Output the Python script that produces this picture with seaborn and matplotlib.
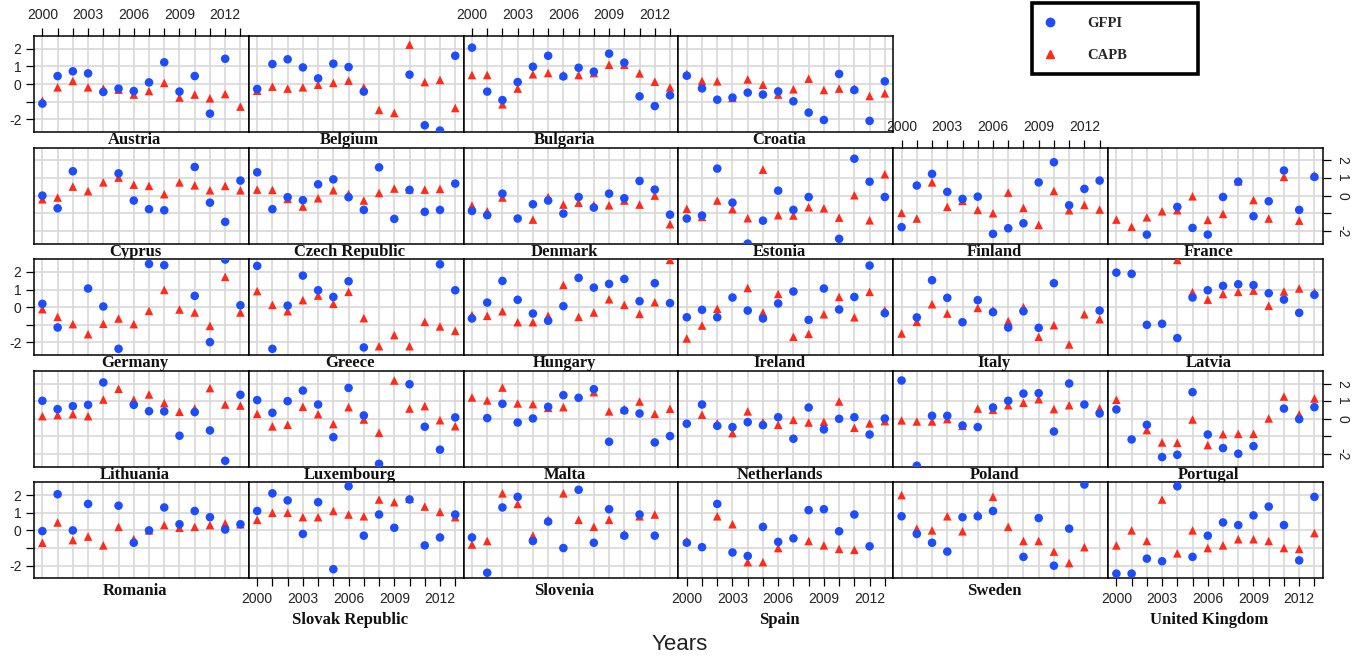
import numpy as np
import pandas as pd
import matplotlib
matplotlib.use("Agg")
import matplotlib.pyplot as plt
import seaborn as sns
from matplotlib.lines import Line2D
from matplotlib.patches import Rectangle

nan = np.nan
years = list(range(2000, 2014))
year_tick_labels = [str(y) if (y - 2000) % 3 == 0 else "" for y in years]
y_ticks = [-2, -1, 0, 1, 2]
y_tick_labels = ["-2", "", "0", "1", "2"]
series_names = ["GFPI", "CAPB"]

austria_gfpi = [-1.11, 0.45, 0.72, 0.60, -0.45, -0.26, -0.40, 0.09, 1.23, -0.43, 0.45, -1.68, 1.43, nan]
austria_capb = [-0.95, -0.19, 0.17, -0.19, -0.26, -0.32, -0.60, -0.40, 0.06, -0.77, -0.60, -0.81, -0.57, -1.28]
belgium_gfpi = [-0.28, 1.13, 1.40, 0.94, 0.32, 1.15, 0.96, -0.43, nan, nan, 0.53, -2.34, -2.64, 1.60]
belgium_capb = [-0.38, -0.15, -0.26, -0.19, -0.04, 0.06, 0.19, -0.19, -1.47, -1.64, 2.23, 0.11, 0.23, -1.36]
bulgaria_gfpi = [2.06, -0.43, -0.91, 0.11, 0.98, 1.60, 0.43, 0.92, 0.70, 1.72, 1.21, -0.70, -1.25, -0.64]
bulgaria_capb = [0.51, 0.51, -1.15, -0.26, 0.55, 0.62, 0.51, 0.51, 0.62, 1.09, 1.09, 0.60, 0.13, -0.19]
croatia_gfpi = [0.47, -0.25, -0.89, -0.77, -0.49, -0.60, -0.42, -0.98, -1.62, -2.04, 0.57, -0.34, -2.09, 0.15]
croatia_capb = [0.57, 0.17, 0.15, -0.79, 0.26, -0.04, -0.60, -0.30, 0.30, -0.34, -0.26, -0.25, -0.68, -0.53]
cyprus_gfpi = [0.0, -0.72, 1.38, nan, nan, 1.26, -0.28, -0.77, -0.83, nan, 1.62, -0.40, -1.49, 0.85]
cyprus_capb = [-0.21, -0.11, 0.51, 0.25, 0.75, 1.02, 0.62, 0.55, 0.08, 0.75, 0.58, 0.30, 0.55, 0.30]
czech_gfpi = [1.32, -0.77, -0.09, -0.26, 0.64, 0.92, -0.09, -0.81, 1.60, -1.32, 0.32, -0.92, -0.81, 0.68]
czech_capb = [0.34, 0.32, -0.19, -0.62, -0.15, 0.30, 0.09, -0.28, 0.15, 0.40, 0.35, 0.34, 0.38, nan]
denmark_gfpi = [-0.87, -1.11, 0.11, -1.30, -0.49, -0.28, -1.02, -0.08, -0.68, 0.11, -0.15, 0.83, 0.34, -1.08]
denmark_capb = [-0.57, -0.89, -0.11, nan, -1.36, -0.08, -0.51, -0.40, -0.53, -0.55, -0.28, -0.51, 0.0, -1.62]
estonia_gfpi = [-1.30, -1.13, 1.53, -0.40, -2.72, -1.42, 0.28, -0.81, -0.08, nan, -2.45, 2.09, 0.79, -0.08]
estonia_capb = [-0.75, -1.21, -0.28, -0.77, -1.28, 1.47, -1.11, -1.13, -0.66, -0.72, -1.25, 0.02, -1.40, 1.21]
finland_gfpi = [-1.79, 0.57, 1.23, 0.21, -0.19, -0.06, -2.17, -1.85, -1.57, 0.75, 1.89, -0.55, 0.38, 0.85]
finland_capb = [-0.98, -1.30, 0.75, -0.64, -0.30, -0.81, -1.0, 0.17, -0.70, -1.66, 0.26, -0.83, -0.53, -0.79]
france_gfpi = [nan, nan, -2.21, nan, -0.64, -1.83, -2.21, -0.08, 0.79, -1.17, -0.32, 1.42, -0.81, 1.06]
france_capb = [-1.36, -1.77, -1.23, -0.89, -0.83, -0.04, -1.38, -1.04, 0.81, -0.25, -1.30, 1.06, -1.42, 1.15]
germany_gfpi = [0.19, -1.15, nan, 1.06, 0.04, -2.36, nan, 2.45, 2.38, nan, 0.64, -1.98, 2.70, 0.11]
germany_capb = [-0.11, -0.55, -0.96, -1.53, -0.94, -0.64, -0.96, -0.21, 0.98, -0.13, -0.30, -1.06, 1.72, -0.30]
greece_gfpi = [2.34, -2.36, 0.09, 1.79, 0.96, 0.58, 1.47, -2.28, nan, nan, nan, nan, 2.43, 0.96]
greece_capb = [0.91, 0.13, -0.23, 0.40, 0.66, 0.19, 0.87, -0.62, -2.21, -1.58, -2.21, -0.83, -1.09, -1.34]
hungary_gfpi = [-0.64, 0.26, 1.49, 0.42, -0.36, -0.77, 0.06, 1.66, 1.11, 1.32, 1.60, 0.34, 1.36, 0.23]
hungary_capb = [-0.45, -0.49, -0.23, -0.85, -0.85, -0.49, 1.26, -0.55, -0.30, 0.45, 0.13, -0.38, 0.28, 2.68]
ireland_gfpi = [-0.57, -0.15, -0.57, 0.55, -0.19, -0.64, 0.21, 0.89, -0.72, 1.06, -0.13, 0.58, 2.36, -0.34]
ireland_capb = [-1.77, -1.04, -0.09, nan, 1.09, -0.30, 0.75, -1.68, -1.51, -0.40, 0.58, -0.57, 0.87, -0.17]
italy_gfpi = [nan, -0.58, 1.53, 0.53, -0.85, 0.40, -0.28, -1.15, -0.23, -1.17, 1.36, nan, nan, -0.19]
italy_capb = [-1.49, -0.83, 0.17, -0.36, nan, -0.04, -0.17, -0.79, 0.0, -1.68, -1.02, -2.11, -0.40, -0.68]
latvia_gfpi = [1.96, 1.89, -1.0, -0.94, -1.75, 0.55, 0.96, 1.21, 1.30, 1.25, 0.79, 0.43, -0.32, 0.70]
latvia_capb = [nan, nan, nan, nan, 2.68, 0.85, 0.43, 0.75, 0.87, 0.94, 0.08, 0.89, 1.06, 0.85]
lithuania_gfpi = [1.02, 0.55, 0.72, 0.79, 2.06, nan, 0.79, 0.43, 0.42, -0.96, 0.38, -0.66, -2.38, 1.36]
lithuania_capb = [0.15, 0.21, 0.26, 0.15, 1.09, 1.70, 1.08, 1.38, 0.89, 0.40, 0.58, 1.74, 0.81, 0.75]
luxembourg_gfpi = [1.06, 0.34, 1.0, 1.60, 0.81, -1.04, 1.75, 0.19, -2.55, nan, 1.96, -0.45, -1.75, 0.08]
luxembourg_capb = [0.28, -0.43, -0.34, 0.68, 0.26, -0.30, 0.66, -0.04, -0.79, 2.17, 0.58, 0.72, -0.08, -0.42]
malta_gfpi = [nan, 0.04, 0.85, -0.21, 0.02, 0.68, 1.34, 1.19, 1.68, -1.30, 0.47, 0.30, -1.34, -0.98]
malta_capb = [1.21, 1.04, 1.77, 0.87, 0.83, 0.62, 0.66, nan, 1.51, 0.42, 0.55, 0.98, 0.28, 0.57]
netherlands_gfpi = [-0.28, 0.81, -0.40, -0.47, -0.19, -0.36, 0.09, -1.13, 0.64, -0.60, 0.0, 0.09, -0.89, 0.02]
netherlands_capb = [nan, 0.23, -0.25, -0.81, 0.42, -0.19, -0.34, -0.06, -0.21, -0.17, 0.98, -0.51, -0.26, -0.13]
poland_gfpi = [2.17, -2.66, 0.17, 0.17, -0.38, -0.47, 0.64, 1.02, 1.43, 1.45, -0.72, 2.0, 0.81, 0.30]
poland_capb = [-0.09, -0.15, -0.15, -0.02, -0.40, 0.58, 0.51, 0.77, 0.91, 1.11, 0.55, 0.77, nan, 0.60]
portugal_gfpi = [0.53, -1.17, -0.34, -2.17, -2.04, 1.51, -0.89, -1.66, -1.98, -1.55, nan, 0.58, -0.02, 0.66]
portugal_capb = [1.08, nan, -0.64, -1.34, -1.36, -0.04, -1.49, -0.87, -0.85, -0.85, 0.02, 1.26, 0.25, 1.15]
romania_gfpi = [-0.04, 2.05, 0.0, 1.5, nan, 1.4, -0.7, 0.0, 1.3, 0.35, 1.1, 0.75, 0.05, 0.35]
romania_capb = [-0.7, 0.45, -0.55, -0.35, -0.85, 0.2, -0.5, 0.0, 0.3, 0.15, 0.2, 0.3, 0.4, 0.35]
slovakia_gfpi = [1.1, 2.1, 1.7, -0.2, 1.6, -2.2, 2.5, -0.3, 0.9, 0.15, 1.75, -0.85, -0.4, 0.9]
slovakia_capb = [0.6, 1.0, 1.0, 0.75, 0.75, 1.1, 0.9, 0.8, 1.75, 1.6, 1.8, 1.35, 1.05, 0.75]
slovenia_gfpi = [-0.4, -2.4, 1.3, 1.9, -0.6, 0.5, -1.0, 2.3, -0.7, 1.2, -0.3, 0.9, -0.3, nan]
slovenia_capb = [-0.8, -0.6, 2.1, 1.5, -0.3, 0.6, 2.1, 0.6, 0.2, 0.6, -0.2, 0.8, 0.9, nan]
spain_gfpi = [-0.7, -0.95, 1.5, -1.25, -1.45, 0.2, -0.65, -0.45, 1.15, 1.2, -0.05, 0.9, -0.9, nan]
spain_capb = [-0.6, nan, 0.8, 0.35, -1.8, -1.8, -1.0, nan, -0.6, -0.85, -1.05, -1.1, nan, nan]
sweden_gfpi = [0.8, -0.2, -0.7, -1.2, 0.75, 0.8, 1.1, nan, -1.5, 0.7, -2.0, 0.1, 2.6, nan]
sweden_capb = [2.0, 0.1, 0.0, 0.8, -0.05, 0.9, 1.9, 0.2, -0.6, -0.6, -1.2, -1.85, -0.95, nan]
uk_gfpi = [-2.45, -2.45, -1.6, -1.75, 2.5, -1.5, -0.3, 0.45, 0.3, 0.85, 1.35, 0.3, -1.7, 1.9]
uk_capb = [-0.85, 0.0, -0.6, 1.75, -1.3, 0.0, -1.0, -0.85, -0.5, -0.5, -0.6, -1.0, -1.05, -0.15]

panel_rows = [
    [("Austria", austria_gfpi, austria_capb), ("Belgium", belgium_gfpi, belgium_capb),
     ("Bulgaria", bulgaria_gfpi, bulgaria_capb), ("Croatia", croatia_gfpi, croatia_capb)],
    [("Cyprus", cyprus_gfpi, cyprus_capb), ("Czech Republic", czech_gfpi, czech_capb),
     ("Denmark", denmark_gfpi, denmark_capb), ("Estonia", estonia_gfpi, estonia_capb),
     ("Finland", finland_gfpi, finland_capb), ("France", france_gfpi, france_capb)],
    [("Germany", germany_gfpi, germany_capb), ("Greece", greece_gfpi, greece_capb),
     ("Hungary", hungary_gfpi, hungary_capb), ("Ireland", ireland_gfpi, ireland_capb),
     ("Italy", italy_gfpi, italy_capb), ("Latvia", latvia_gfpi, latvia_capb)],
    [("Lithuania", lithuania_gfpi, lithuania_capb), ("Luxembourg", luxembourg_gfpi, luxembourg_capb),
     ("Malta", malta_gfpi, malta_capb), ("Netherlands", netherlands_gfpi, netherlands_capb),
     ("Poland", poland_gfpi, poland_capb), ("Portugal", portugal_gfpi, portugal_capb)],
    [("Romania", romania_gfpi, romania_capb), ("Slovak Republic", slovakia_gfpi, slovakia_capb),
     ("Slovenia", slovenia_gfpi, slovenia_capb), ("Spain", spain_gfpi, spain_capb),
     ("Sweden", sweden_gfpi, sweden_capb), ("United Kingdom", uk_gfpi, uk_capb)],
]

BLUE = "#1c4dff"
RED = "#ff2a1a"
SERIF = "Liberation Serif"
SANS = "Liberation Sans"

sns.set_theme(style="white")
plt.rcParams["font.family"] = [SANS, "DejaVu Sans"]

W, H = 1365, 658
fig = plt.figure(figsize=(W / 100, H / 100), dpi=100)

PL, PT, PW, PH, RP = 34.0, 36.0, 214.8, 96.0, 111.6
n_rows = len(panel_rows)

for r, row in enumerate(panel_rows):
    for c, (name, g_vals, c_vals) in enumerate(row):
        left = (PL + c * PW) / W
        bottom = 1 - (PT + r * RP + PH) / H
        ax = fig.add_axes([left, bottom, PW / W, PH / H])
        df = pd.DataFrame({
            "Year": years * 2,
            "Value": list(c_vals) + list(g_vals),
            "Series": ["CAPB"] * len(years) + ["GFPI"] * len(years),
        }).dropna()
        sns.scatterplot(data=df, x="Year", y="Value", hue="Series", style="Series",
                        palette={"GFPI": BLUE, "CAPB": RED},
                        markers={"GFPI": "o", "CAPB": "^"},
                        s=38, linewidth=0, legend=False, ax=ax, zorder=3)
        ax.set_xlim(1999.45, 2013.55)
        ax.set_ylim(-2.72, 2.72)
        ax.set_xticks(years)
        ax.set_xticklabels(year_tick_labels)
        ax.set_yticks(y_ticks)
        ax.set_yticklabels(y_tick_labels)
        ax.grid(True, color="#d8d8d8", linewidth=1.2)
        ax.set_axisbelow(True)
        ax.set_xlabel("")
        ax.set_ylabel("")
        for sp in ax.spines.values():
            sp.set_color("black")
            sp.set_linewidth(1.1)
        ax.tick_params(axis="both", which="both", length=0, labelbottom=False, labelleft=False,
                       labeltop=False, labelright=False, bottom=False, left=False, top=False, right=False)
        top_row_of_col = 0 if c < 4 else 1
        strip_offset = 8.0
        if r == n_rows - 1:
            strip_offset = 13.0
        if c % 2 == 0 and r == top_row_of_col:
            ax.tick_params(axis="x", top=True, labeltop=True, length=6, width=0.9, color="black",
                           direction="out", labelsize=10, pad=4)
        if c % 2 == 1 and r == n_rows - 1:
            ax.tick_params(axis="x", bottom=True, labelbottom=True, length=6, width=0.9, color="black",
                           direction="out", labelsize=10, pad=4)
            strip_offset = 42.0
        if r % 2 == 0 and c == 0:
            ax.tick_params(axis="y", left=True, labelleft=True, length=6, width=0.9, color="black",
                           direction="out", labelsize=10, pad=3)
        if r % 2 == 1 and c == 5:
            ax.tick_params(axis="y", right=True, labelright=True, length=6, width=0.9, color="black",
                           direction="out", labelsize=10, pad=3, labelrotation=-90)
            for lab in ax.get_yticklabels():
                lab.set_va("center")
        for lab in ax.get_xticklabels() + ax.get_yticklabels():
            lab.set_color("#222222")
        ax.text(0.47, -strip_offset / PH, name, transform=ax.transAxes,
                ha="center", va="center", fontsize=12, fontweight="bold", family=SERIF, color="#111111")

# legend
box_x0, box_y0, box_x1, box_y1 = 1032, 3, 1198, 74
fig.patches.append(Rectangle((box_x0 / W, 1 - box_y1 / H), (box_x1 - box_x0) / W, (box_y1 - box_y0) / H,
                             transform=fig.transFigure, fill=False, edgecolor="black", linewidth=2.6))
handles = [Line2D([], [], marker="o", linestyle="", color=BLUE, markersize=6),
           Line2D([], [], marker="^", linestyle="", color=RED, markersize=6)]
fig.legend(handles, series_names, loc="upper left", bbox_to_anchor=(1030 / W, 1 - 4 / H),
           frameon=False, handletextpad=2.0, labelspacing=1.3, handlelength=1.0,
           prop={"family": SERIF, "weight": "bold", "size": 10.5})

fig.text(680 / W, 1 - 645 / H, "Years", ha="center", va="center", fontsize=16, color="#222222", family=SANS)

fig.savefig("out.png", dpi=100)
